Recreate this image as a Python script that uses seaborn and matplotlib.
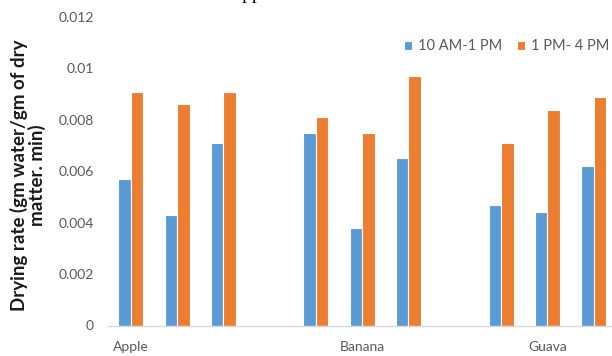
import matplotlib
matplotlib.use("Agg")
import matplotlib.pyplot as plt
import seaborn as sns
import pandas as pd

# ---- data ----
slots = ["A1", "A2", "A3", "g1", "B1", "B2", "B3", "g2", "G1", "G2", "G3"]
data_slots = ["A1", "A2", "A3", "B1", "B2", "B3", "G1", "G2", "G3"]
x_tick_labels = ["Apple", "", "", "", "", "Banana", "", "", "", "Guava", ""]
series_names = ["10 AM-1 PM", "1 PM- 4 PM"]
morning = [0.0057, 0.0043, 0.0071, 0.0075, 0.0038, 0.0065, 0.0047, 0.0044, 0.0062]
afternoon = [0.0091, 0.0086, 0.0091, 0.0081, 0.0075, 0.0097, 0.0071, 0.0084, 0.0089]
y_ticks = [0, 0.002, 0.004, 0.006, 0.008, 0.010, 0.012]
y_tick_labels = ["0", "0.002", "0.004", "0.006", "0.008", "0.01", "0.012"]
colors = ["#5B9BD5", "#ED7D31"]

df = pd.DataFrame({
    "slot": data_slots * 2,
    "rate": morning + afternoon,
    "period": [series_names[0]] * len(data_slots) + [series_names[1]] * len(data_slots),
})

sns.set_theme(style="white")
plt.rcParams["font.family"] = ["Lato", "DejaVu Sans"]

fig = plt.figure(figsize=(6.12, 3.56), dpi=100)
ax = fig.add_axes([107.7 / 612, 1 - 325.5 / 356, 509 / 612, 308.5 / 356])

sns.barplot(data=df, x="slot", y="rate", hue="period", order=slots,
            hue_order=series_names, palette=colors, width=0.54,
            edgecolor="white", linewidth=0.8, saturation=1, ax=ax,
            errorbar=None)

ax.set_xlim(-0.5, len(slots) - 0.5)
ax.set_ylim(0, 0.012)
ax.set_yticks(y_ticks)
ax.set_yticklabels(y_tick_labels)
ax.set_xticks(range(len(slots)))
ax.set_xticklabels(x_tick_labels)
ax.tick_params(axis="both", length=0, labelsize=10, labelcolor="#595959")
ax.tick_params(axis="y", pad=10)
ax.tick_params(axis="x", pad=11)
ax.set_xlabel("")
ax.set_ylabel("")
for s in ["left", "top", "right"]:
    ax.spines[s].set_visible(False)
ax.spines["bottom"].set_color("#D9D9D9")
ax.spines["bottom"].set_linewidth(1.0)

fig.text(28 / 612, 1 - 175 / 356, "Drying rate (gm water/gm of dry\nmatter. min)",
         rotation=90, ha="center", va="center", fontsize=13.5, fontweight="bold",
         color="#1a1a1a", linespacing=0.95, multialignment="center")

ax.legend(loc="center left", bbox_to_anchor=(404 / 612, 1 - 46.5 / 356),
          bbox_transform=fig.transFigure, ncol=2, frameon=False,
          handlelength=0.55, handleheight=0.55, handletextpad=0.4,
          columnspacing=1.05, fontsize=10.5, labelcolor="#595959",
          borderaxespad=0, borderpad=0)

# clipped title from the page above
fig.text(253 / 612, 1 + 1 / 356, "Apple", ha="center", va="baseline",
         fontsize=14, family=["Liberation Serif", "DejaVu Serif"], color="black")

fig.savefig("out.png", dpi=100)
